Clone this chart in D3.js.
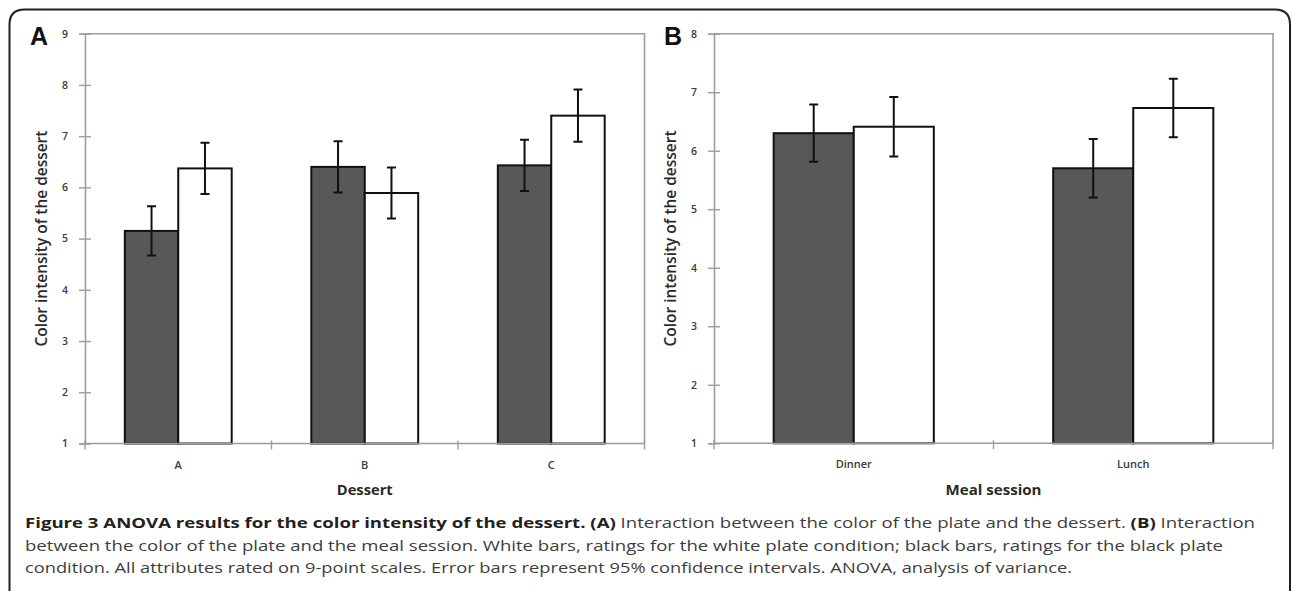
<!DOCTYPE html>
<html>
<head>
<meta charset="utf-8">
<script src="https://cdn.jsdelivr.net/npm/d3@7"></script>
<style>
  html, body { margin: 0; padding: 0; background: #fff; }
  svg { display: block; }
</style>
</head>
<body>
<svg id="chart" width="1293" height="591"></svg>
<script>
// ---------- data ----------
const categoriesA = ["A", "B", "C"];
const blackPlateA = [5.15, 6.40, 6.43];
const whitePlateA = [6.37, 5.89, 7.40];
const blackErrA = [0.48, 0.50, 0.50];
const whiteErrA = [0.50, 0.50, 0.51];
const yTicksA = [1, 2, 3, 4, 5, 6, 7, 8, 9];

const categoriesB = ["Dinner", "Lunch"];
const blackPlateB = [6.30, 5.70];
const whitePlateB = [6.41, 6.73];
const blackErrB = [0.49, 0.50];
const whiteErrB = [0.51, 0.50];
const yTicksB = [1, 2, 3, 4, 5, 6, 7, 8];

const series = ["black", "white"];
const yTitle = "Color intensity of the dessert";
const xTitleA = "Dessert";
const xTitleB = "Meal session";

const captionLines = [
  [["Figure 3 ANOVA results for the color intensity of the dessert.", true], [" ", false], ["(A)", true],
   [" Interaction between the color of the plate and the dessert. ", false], ["(B)", true], [" Interaction", false]],
  [["between the color of the plate and the meal session. White bars, ratings for the white plate condition; black bars, ratings for the black plate", false]],
  [["condition. All attributes rated on 9-point scales. Error bars represent 95% confidence intervals. ANOVA, analysis of variance.", false]]
];

// ---------- drawing ----------
const svg = d3.select("#chart");

// outer frame (rounded top corners, open at bottom)
const fx0 = 9.5, fy0 = 9.5, fx1 = 1290, r = 15;
svg.append("path")
  .attr("d", `M${fx0},600 L${fx0},${fy0 + r} Q${fx0},${fy0} ${fx0 + r},${fy0} L${fx1 - r},${fy0} Q${fx1},${fy0} ${fx1},${fy0 + r} L${fx1},600`)
  .attr("fill", "none").attr("stroke", "#231f20").attr("stroke-width", 2);

const tickFont = "'Open Sans', 'DejaVu Sans', sans-serif";

function drawPanel(o) {
  const g = svg.append("g");
  const y = d3.scaleLinear().domain([o.yTicks[0], o.yTicks[o.yTicks.length - 1]]).range([o.bottom, o.top]);
  const p = 0.427;
  const x0 = d3.scaleBand().domain(o.categories).range([o.left, o.right]).paddingInner(p).paddingOuter(p / 2);
  const x1 = d3.scaleBand().domain(series).range([0, x0.bandwidth()]);
  const step = x0.step();

  // plot box (top & right)
  g.append("path")
    .attr("d", `M${o.left},${o.top} L${o.right},${o.top} L${o.right},${o.bottom}`)
    .attr("fill", "none").attr("stroke", "#9d9d9d").attr("stroke-width", 1.6);

  // bars
  const rows = o.categories.map((c, i) => ({
    cat: c,
    vals: [
      { s: "black", v: o.black[i], e: o.blackErr[i] },
      { s: "white", v: o.white[i], e: o.whiteErr[i] }
    ]
  }));
  const groups = g.selectAll(".grp").data(rows).enter().append("g")
    .attr("transform", d => `translate(${x0(d.cat)},0)`);
  groups.selectAll("rect").data(d => d.vals).enter().append("rect")
    .attr("x", d => x1(d.s))
    .attr("y", d => y(d.v))
    .attr("width", x1.bandwidth())
    .attr("height", d => y(o.yTicks[0]) - y(d.v))
    .attr("fill", d => d.s === "black" ? "#585858" : "#ffffff")
    .attr("stroke", "#111").attr("stroke-width", 2);

  // error bars
  const cap = 4.5;
  groups.selectAll(".err").data(d => d.vals).enter().append("path")
    .attr("d", d => {
      const cx = x1(d.s) + x1.bandwidth() / 2;
      const yh = y(d.v + d.e), yl = y(d.v - d.e);
      return `M${cx},${yh} L${cx},${yl} M${cx - cap},${yh} L${cx + cap},${yh} M${cx - cap},${yl} L${cx + cap},${yl}`;
    })
    .attr("fill", "none").attr("stroke", "#111").attr("stroke-width", 2);

  // y axis
  const yAxis = d3.axisLeft(y).tickValues(o.yTicks).tickSize(6).tickPadding(11).tickFormat(d3.format("d"));
  const ya = g.append("g").attr("transform", `translate(${o.left},0)`).call(yAxis);
  ya.select(".domain").attr("stroke", "#9d9d9d").attr("stroke-width", 1.6);
  ya.selectAll(".tick line").attr("stroke", "#9d9d9d").attr("stroke-width", 1.4).attr("x2", -6).attr("x1", 6);
  ya.selectAll(".tick text").attr("font-family", tickFont).attr("font-size", 10.5)
    .attr("font-weight", 600).attr("fill", "#3a3a3a");

  // x axis baseline
  g.append("line").attr("x1", o.left).attr("x2", o.right).attr("y1", o.bottom).attr("y2", o.bottom)
    .attr("stroke", "#9d9d9d").attr("stroke-width", 1.6);
  // category boundary ticks
  const bounds = d3.range(o.categories.length + 1).map(i => o.left + i * step);
  g.selectAll(".xtick").data(bounds).enter().append("line")
    .attr("x1", d => d).attr("x2", d => d)
    .attr("y1", o.bottom - 3).attr("y2", o.bottom + 6)
    .attr("stroke", "#9d9d9d").attr("stroke-width", 1.4);
  // category labels
  g.selectAll(".xlab").data(o.categories).enter().append("text")
    .attr("x", d => x0(d) + x0.bandwidth() / 2)
    .attr("y", o.bottom + 25)
    .attr("text-anchor", "middle")
    .attr("font-family", tickFont).attr("font-size", 11).attr("font-weight", 600).attr("fill", "#3a3a3a")
    .text(d => d);

  // x title
  g.append("text")
    .attr("x", (o.left + o.right) / 2).attr("y", 495)
    .attr("text-anchor", "middle")
    .attr("font-family", "'Open Sans', sans-serif").attr("font-size", 15).attr("font-weight", 700)
    .attr("fill", "#2a2a2a")
    .attr("textLength", o.xTitleLen).attr("lengthAdjust", "spacingAndGlyphs")
    .text(o.xTitle);

  // y title
  const ty = (o.top + o.bottom) / 2;
  g.append("text")
    .attr("transform", `translate(${o.left - 38},${ty}) rotate(-90)`)
    .attr("text-anchor", "middle")
    .attr("font-family", "'Open Sans', sans-serif").attr("font-size", 16).attr("font-weight", 600)
    .attr("fill", "#2a2a2a")
    .attr("textLength", 216).attr("lengthAdjust", "spacingAndGlyphs")
    .text(yTitle);

  // panel letter
  g.append("text")
    .attr("x", o.letterX).attr("y", 45)
    .attr("font-family", "'Liberation Sans', Arial, sans-serif").attr("font-size", 25).attr("font-weight", 700)
    .attr("fill", "#111")
    .text(o.letter);
}

drawPanel({
  categories: categoriesA, black: blackPlateA, white: whitePlateA,
  blackErr: blackErrA, whiteErr: whiteErrA, yTicks: yTicksA,
  left: 85, right: 644.5, top: 33.7, bottom: 443.5,
  xTitle: xTitleA, xTitleLen: 56, letter: "A", letterX: 30
});
drawPanel({
  categories: categoriesB, black: blackPlateB, white: whitePlateB,
  blackErr: blackErrB, whiteErr: whiteErrB, yTicks: yTicksB,
  left: 714, right: 1273, top: 33.7, bottom: 443.3,
  xTitle: xTitleB, xTitleLen: 96, letter: "B", letterX: 664
});

// caption
const capG = svg.append("g");
const lineTargets = [1230, 1198, 1047];
captionLines.forEach((parts, i) => {
  const t = capG.append("text")
    .attr("x", 25).attr("y", 528 + i * 22.5)
    .attr("font-family", "'Open Sans', sans-serif").attr("font-size", 15)
    .attr("xml:space", "preserve");
  parts.forEach(([txt, bold]) => {
    t.append("tspan")
      .attr("font-weight", bold ? 700 : 400)
      .attr("fill", bold ? "#231f20" : "#3d3d3d")
      .text(txt);
  });
  const w = t.node().getComputedTextLength();
  const target = lineTargets[i];
  if (Math.abs(w - target) > 2) {
    t.attr("textLength", target).attr("lengthAdjust", "spacingAndGlyphs");
  }
});
</script>
</body>
</html>
